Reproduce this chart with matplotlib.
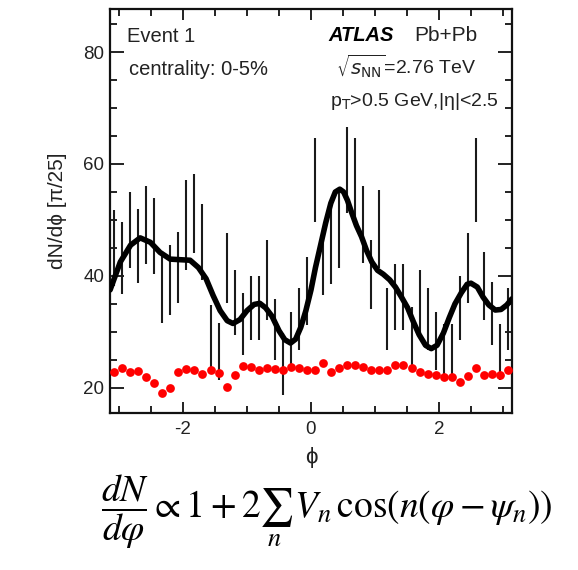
import numpy as np
import matplotlib
matplotlib.use("Agg")
import matplotlib.pyplot as plt

# ---------------- data ----------------
n_bins = 50
bin_width = np.pi / 25
phi_bins = -np.pi + (np.arange(n_bins) + 0.5) * bin_width

counts = [45.0, 43.2, 48.2, 45.3, 49.1, 47.2, 38.0, 39.3, 41.5, 49.1,
          51.2, 46.0, 29.3, 26.5, 41.4, 35.3, 31.4, 34.3, 34.3, 39.3,
          30.4, 24.3, 28.4, 32.3, 37.3, 57.2, 42.5, 45.3, 48.4, 59.0,
          57.1, 49.2, 40.2, 48.4, 32.3, 36.3, 36.3, 29.3, 35.1, 32.3,
          28.4, 26.6, 26.6, 34.3, 41.4, 57.2, 38.2, 33.3, 26.4, 32.3]
errors = [6.8, 6.5, 6.8, 6.6, 7.0, 6.8, 6.4, 6.3, 6.4, 8.0,
          7.1, 6.8, 5.5, 5.1, 6.3, 5.8, 5.5, 5.7, 5.7, 7.1,
          5.4, 5.5, 5.2, 5.5, 6.1, 7.5, 6.0, 6.7, 7.0, 7.7,
          7.5, 6.9, 6.2, 6.9, 5.5, 5.9, 5.9, 5.2, 5.9, 5.5,
          5.2, 4.8, 4.8, 5.7, 6.3, 7.5, 6.1, 5.6, 5.0, 5.5]

average = [22.9, 23.5, 22.9, 23.0, 22.0, 20.8, 19.1, 19.9, 22.9, 23.4,
           23.2, 22.4, 23.2, 22.6, 20.1, 22.3, 23.9, 23.8, 23.2, 23.5,
           23.3, 23.1, 23.8, 23.5, 23.2, 23.1, 24.4, 22.9, 23.6, 24.0,
           24.0, 23.8, 23.2, 23.1, 23.2, 24.0, 24.0, 23.6, 22.9, 22.5,
           22.3, 22.0, 22.0, 21.1, 22.2, 23.6, 22.3, 22.5, 22.3, 23.2]

fit_phi = [-3.14, -2.98, -2.82, -2.67, -2.51, -2.36, -2.20, -2.05, -1.89, -1.76,
           -1.64, -1.53, -1.42, -1.31, -1.22, -1.11, -1.00, -0.89, -0.80, -0.71,
           -0.61, -0.50, -0.41, -0.32, -0.24, -0.16, -0.08, 0.00, 0.07, 0.15,
           0.23, 0.31, 0.38, 0.45, 0.51, 0.57, 0.63, 0.71, 0.79, 0.87,
           0.95, 1.04, 1.13, 1.23, 1.32, 1.41, 1.51, 1.60, 1.69, 1.79,
           1.88, 1.97, 2.07, 2.16, 2.25, 2.35, 2.44, 2.50, 2.60, 2.69,
           2.78, 2.88, 2.97, 3.06, 3.14]
fit_val = [37.5, 42.5, 45.5, 46.8, 46.0, 44.2, 43.0, 42.9, 42.8, 41.5,
           39.5, 36.5, 33.8, 32.0, 31.5, 32.2, 33.8, 34.9, 35.1, 34.3,
           32.8, 30.2, 28.6, 28.0, 28.7, 30.8, 33.8, 37.5, 41.5, 45.5,
           49.5, 53.0, 55.0, 55.5, 55.0, 53.5, 51.5, 49.0, 47.0, 44.5,
           42.5, 41.0, 40.3, 39.3, 38.0, 36.3, 34.3, 31.8, 29.5, 27.6,
           27.0, 27.6, 29.8, 32.5, 35.0, 37.0, 38.5, 38.7, 38.0, 36.2,
           34.8, 33.9, 34.0, 34.8, 35.9]

x_ticks = [-2, 0, 2]
y_ticks = [20, 40, 60, 80]

# ---------------- figure ----------------
W, H = 578, 570
fig = plt.figure(figsize=(W / 100, H / 100), dpi=100)
ax = fig.add_axes([110 / W, 1 - 413 / H, (512 - 110) / W, (413 - 9) / H])

sans = ['Liberation Sans', 'DejaVu Sans']
tcol = '#222222'

ax.errorbar(phi_bins, counts, yerr=errors, fmt='none', ecolor='#1a1a1a',
            elinewidth=1.5, capsize=0, zorder=2)
ax.plot(phi_bins, average, 'o', color='#ff0000', markersize=6.3,
        markeredgewidth=0, zorder=3)
ax.plot(fit_phi, fit_val, '-', color='black', lw=4.0, zorder=4,
        solid_capstyle='round', solid_joinstyle='round')

ax.set_xlim(-np.pi, np.pi)
ax.set_ylim(15.5, 87.7)
ax.set_xticks(x_ticks)
ax.set_xticks(np.arange(-3.0, 3.01, 0.5), minor=True)
ax.set_yticks(y_ticks)
ax.set_yticks(np.arange(20, 86, 5), minor=True)
ax.set_xticklabels([str(v) for v in x_ticks], family=sans, fontsize=13.5, color=tcol)
ax.set_yticklabels([str(v) for v in y_ticks], family=sans, fontsize=13.5, color=tcol)
ax.tick_params(which='both', direction='in', top=True, right=True, color='#111111', width=1.3)
ax.tick_params(which='major', axis='y', length=10, pad=4)
ax.tick_params(which='minor', axis='y', length=5)
ax.tick_params(which='major', axis='x', length=8, pad=6)
ax.tick_params(which='minor', axis='x', length=5)
for s in ax.spines.values():
    s.set_linewidth(1.6)
    s.set_color('#111111')

ax.set_ylabel('dN/dϕ [π/25]', family=sans, fontsize=15, color=tcol, labelpad=12)
ax.set_xlabel('ϕ', family=sans, fontsize=16, color=tcol, labelpad=6)

# annotations (figure pixel coordinates)
def fx(px):
    return px / W
def fy(py):
    return 1 - py / H

fig.text(fx(127), fy(42), 'Event 1', family=sans, fontsize=14.5, color=tcol, va='baseline')
fig.text(fx(129), fy(75), 'centrality: 0-5%', family=sans, fontsize=14.5, color=tcol, va='baseline')
fig.text(fx(328), fy(41), 'ATLAS', family=sans, fontsize=14.5, weight='bold', style='italic',
         color='black', va='baseline')
fig.text(fx(414), fy(41), 'Pb+Pb', family=sans, fontsize=15, color=tcol, va='baseline')
fig.text(fx(336), fy(74), r'$\sqrt{s_{\mathrm{NN}}}$=2.76 TeV', family=sans, fontsize=14,
         color=tcol, va='baseline')
fig.text(fx(330), fy(106), r'p$_{\mathrm{T}}$>0.5 GeV,|η|<2.5', family=sans, fontsize=14,
         color=tcol, va='baseline')

fig.text(fx(327), fy(512),
         r'$\dfrac{dN}{d\varphi} \propto 1 + 2\sum_{n}\, V_n\,\cos(n(\varphi - \psi_n))$',
         math_fontfamily='stix', fontsize=27, color='black', ha='center', va='center')

fig.savefig('out.png', dpi=100)
